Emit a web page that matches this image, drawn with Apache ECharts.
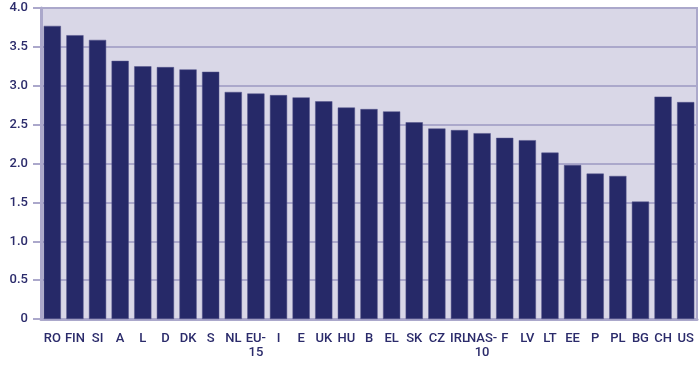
<!DOCTYPE html>
<html><head><meta charset="utf-8">
<script src="https://cdn.jsdelivr.net/npm/echarts@6/dist/echarts.min.js"></script>
<style>html,body{margin:0;padding:0;background:#fff}#c{width:700px;height:365px}</style>
</head><body><div id="c"></div>
<script>
const categories = ["RO","FIN","SI","A","L","D","DK","S","NL","EU-\n15","I","E","UK","HU","B","EL","SK","CZ","IRL","NAS-\n10","F","LV","LT","EE","P","PL","BG","CH","US"];
const values = [3.77,3.65,3.59,3.32,3.25,3.24,3.21,3.18,2.92,2.90,2.88,2.85,2.80,2.72,2.70,2.67,2.53,2.45,2.43,2.39,2.33,2.30,2.14,1.98,1.87,1.84,1.51,2.86,2.79];
const yTicks = [0,0.5,1.0,1.5,2.0,2.5,3.0,3.5,4.0];

const chart = echarts.init(document.getElementById('c'), null, {renderer:'canvas'});
const txt = '#2b2b6b';
const gridCol = '#aba8cb';
chart.setOption({
  animation:false,
  grid:{left:41,right:3,top:8,bottom:46,show:true,backgroundColor:'#d9d7e7',borderColor:gridCol,borderWidth:2},
  xAxis:{type:'category',data:categories,
    axisLine:{lineStyle:{color:gridCol,width:3}},
    axisTick:{show:false},
    axisLabel:{color:txt,fontFamily:'Roboto',fontWeight:500,fontSize:13,interval:0,margin:13,lineHeight:14}
  },
  yAxis:{type:'value',min:0,max:4,interval:0.5,
    axisLine:{show:true,lineStyle:{color:gridCol,width:3}},
    axisTick:{show:true,length:8,lineStyle:{color:gridCol,width:2}},
    splitLine:{lineStyle:{color:gridCol,width:2}},
    axisLabel:{color:txt,fontFamily:'Roboto',fontWeight:500,fontSize:13,margin:13,
      formatter:v=>{const t=yTicks.find(x=>Math.abs(x-v)<1e-9);return t===0?'0':t.toFixed(1);}}
  },
  series:[{type:'bar',data:values,barCategoryGap:'24%',
    itemStyle:{color:'#262968',borderColor:'#55558a',borderWidth:0.5}}]
});
</script></body></html>
